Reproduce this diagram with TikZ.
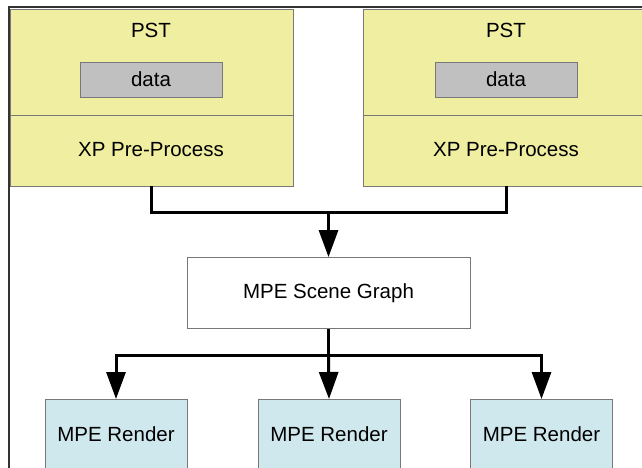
\documentclass[tikz,border=0pt]{standalone}
\usepackage{fontspec}
\setmainfont{Liberation Sans}
\usetikzlibrary{arrows.meta}
\definecolor{pstyellow}{RGB}{240,238,160}
\definecolor{datagray}{RGB}{192,192,192}
\definecolor{renderblue}{RGB}{207,232,238}
\definecolor{edgegray}{RGB}{120,120,120}
\begin{document}
\begin{tikzpicture}[x=1pt,y=-1pt,
  box/.style={draw=edgegray,line width=0.8pt},
  lbl/.style={font=\fontsize{20.5}{24}\selectfont,inner sep=0pt},
  conn/.style={line width=3pt,black},
  arr/.style={conn,-{Triangle[width=19pt,length=27pt]}}]
\useasboundingbox (0,0) rectangle (642,468);
\clip (0,0) rectangle (642,468);
% outer frame
\draw[line width=2pt,black!80] (9,470) -- (9,7.5) -- (650,7.5);
% left PST
\draw[box,fill=pstyellow] (10,9) rectangle (293,186);
\draw[box] (10,115) -- (293,115);
\draw[box,fill=datagray] (80,62) rectangle (222,97);
\node[lbl] (pstA) at (151,30) {PST};
\node[lbl] (dataA) at (151,79.5) {data};
\node[lbl] (xpA) at (151,150) {XP Pre-Process};
\coordinate (outA) at (151,186);
% right PST
\draw[box,fill=pstyellow] (363,9) rectangle (646,186);
\draw[box] (363,115) -- (646,115);
\draw[box,fill=datagray] (435,62) rectangle (577,97);
\node[lbl] (pstB) at (506,30) {PST};
\node[lbl] (dataB) at (506,79.5) {data};
\node[lbl] (xpB) at (506,150) {XP Pre-Process};
\coordinate (outB) at (506,186);
% scene graph
\node[box,fill=white,minimum width=283pt,minimum height=71pt,inner sep=0pt,font=\fontsize{20.5}{24}\selectfont] (sg) at (328.5,293) {MPE Scene Graph};
% renders
\node[box,fill=renderblue,minimum width=142pt,minimum height=90pt,anchor=north,inner sep=0pt] (r1) at (116,399) {};
\node[box,fill=renderblue,minimum width=142pt,minimum height=90pt,anchor=north,inner sep=0pt] (r2) at (329,399) {};
\node[box,fill=renderblue,minimum width=142pt,minimum height=90pt,anchor=north,inner sep=0pt] (r3) at (541.5,399) {};
\node[lbl] (t1) at (116,434) {MPE Render};
\node[lbl] (t2) at (329,434) {MPE Render};
\node[lbl] (t3) at (541.5,434) {MPE Render};
% connectors
\coordinate (j1) at (328.5,212);
\draw[conn] (outA) |- (j1) -| (outB);
\draw[arr] (j1) -- (sg.north);
\coordinate (j2) at (328.5,355);
\draw[conn] (sg.south) -- (j2);
\draw[arr] (j2) -| (r1.north);
\draw[arr] (j2) -- (r2.north);
\draw[arr] (j2) -| (r3.north);
\end{tikzpicture}
\end{document}
